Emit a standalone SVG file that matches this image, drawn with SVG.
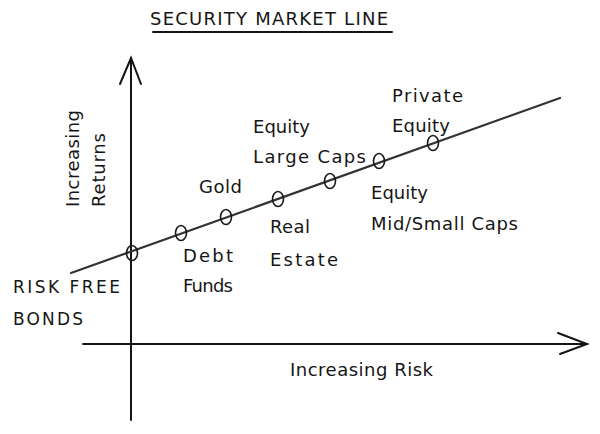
<svg xmlns="http://www.w3.org/2000/svg" width="600" height="434" viewBox="0 0 600 434">
<style>
  text { font-family: "DejaVu Sans", "Liberation Sans", sans-serif; font-size: 18px; fill: #161616; }
  .cap { font-size: 17px; }
  .ttl { font-size: 18px; }
  .ax { stroke: #141414; stroke-width: 2; fill: none; stroke-linecap: round; }
  .sml { stroke: #333; stroke-width: 2.2; fill: none; stroke-linecap: round; }
  .pt { stroke: #1a1a1a; stroke-width: 1.6; fill: none; }
</style>
<rect width="600" height="434" fill="#ffffff"/>
<g id="title">
  <text class="ttl" x="150" y="25" textLength="238" lengthAdjust="spacing">SECURITY MARKET LINE</text>
  <line class="ax" x1="153" y1="32" x2="392" y2="32" stroke-width="1.8"/>
</g>
<g id="connectors">
  <line class="ax" x1="131" y1="58" x2="131" y2="420"/>
  <polyline class="ax" points="120,84 131,58 141,84"/>
  <line class="ax" x1="83" y1="344" x2="587" y2="344"/>
  <polyline class="ax" points="558,333 587,344 560,354"/>
  <line class="sml" x1="71" y1="273" x2="560" y2="98"/>
</g>
<g id="axis-labels">
  <text transform="translate(79,207) rotate(-90)" textLength="97" lengthAdjust="spacing">Increasing</text>
  <text transform="translate(105,207) rotate(-90)" textLength="74" lengthAdjust="spacing">Returns</text>
  <text x="290" y="376" textLength="143" lengthAdjust="spacing">Increasing Risk</text>
</g>
<g id="risk-free-bonds">
  <ellipse class="pt" cx="132" cy="253" rx="5.5" ry="7.5"/>
  <text class="cap" x="13" y="293" textLength="107" lengthAdjust="spacing">RISK FREE</text>
  <text class="cap" x="13" y="325" textLength="70" lengthAdjust="spacing">BONDS</text>
</g>
<g id="debt-funds">
  <ellipse class="pt" cx="181" cy="233" rx="5.5" ry="7.5"/>
  <text x="183" y="262" textLength="50" lengthAdjust="spacing">Debt</text>
  <text x="183" y="292" textLength="50" lengthAdjust="spacing">Funds</text>
</g>
<g id="gold">
  <ellipse class="pt" cx="226" cy="217" rx="5.5" ry="7.5"/>
  <text x="199" y="193" textLength="43" lengthAdjust="spacing">Gold</text>
</g>
<g id="real-estate">
  <ellipse class="pt" cx="278" cy="199" rx="5.5" ry="7.5"/>
  <text x="270" y="233" textLength="40" lengthAdjust="spacing">Real</text>
  <text x="270" y="266" textLength="68" lengthAdjust="spacing">Estate</text>
</g>
<g id="equity-large-caps">
  <ellipse class="pt" cx="330" cy="181" rx="5.5" ry="7.5"/>
  <text x="253" y="133" textLength="57" lengthAdjust="spacing">Equity</text>
  <text x="253" y="163" textLength="113" lengthAdjust="spacing">Large Caps</text>
</g>
<g id="equity-mid-small-caps">
  <ellipse class="pt" cx="379" cy="161" rx="5.5" ry="7.5"/>
  <text x="371" y="199" textLength="57" lengthAdjust="spacing">Equity</text>
  <text x="371" y="230" textLength="147" lengthAdjust="spacing">Mid/Small Caps</text>
</g>
<g id="private-equity">
  <ellipse class="pt" cx="433" cy="143" rx="5.5" ry="7.5"/>
  <text x="392" y="102" textLength="71" lengthAdjust="spacing">Private</text>
  <text x="392" y="132" textLength="58" lengthAdjust="spacing">Equity</text>
</g>
</svg>
